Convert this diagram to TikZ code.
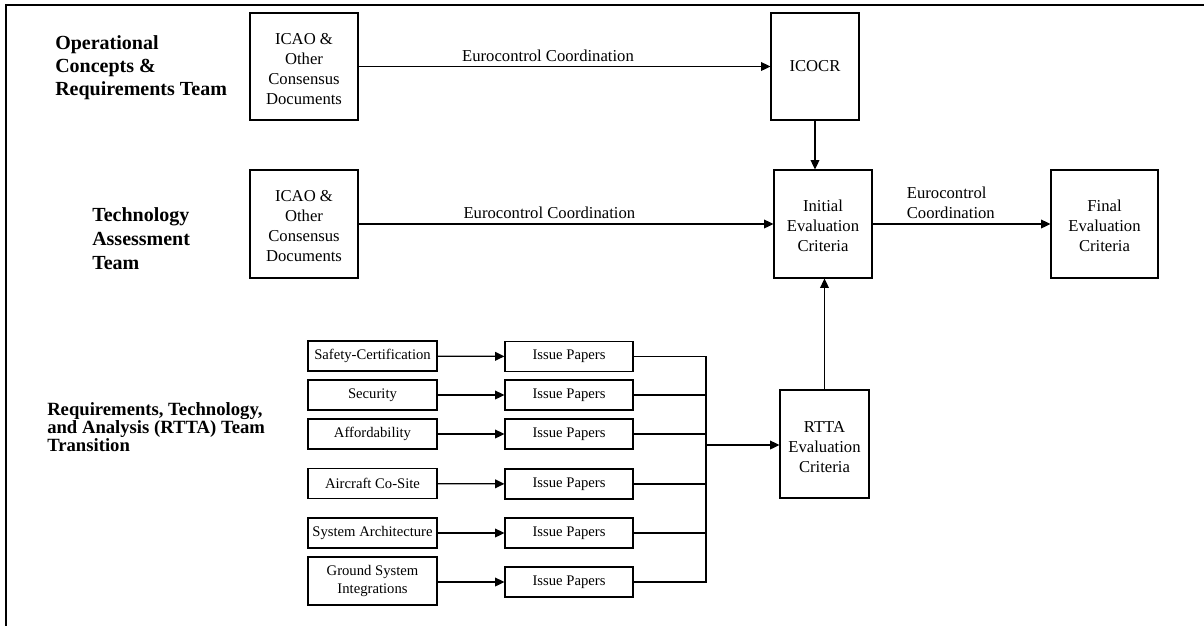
\documentclass[tikz,border=0pt]{standalone}
\usepackage{fontspec}
\setmainfont{Liberation Serif}
\usetikzlibrary{arrows.meta,positioning}

\tikzset{
  docbox/.style={draw, line width=0.8pt, align=center, inner sep=1pt,
    font=\fontsize{12.5}{15}\selectfont},
  areabox/.style={draw, line width=0.8pt, align=center, inner sep=1pt,
    minimum width=96.75pt, minimum height=22.5pt, font=\fontsize{11}{14}\selectfont},
  teamlabel/.style={anchor=north west, align=left, inner sep=0pt},
  flow/.style={-{Triangle[length=7pt,width=6.5pt]}, line width=1pt},
  busline/.style={line width=1pt},
  flowtext/.style={font=\fontsize{12.5}{15}\selectfont, align=left},
}

\begin{document}
\begin{tikzpicture}[x=0.75pt, y=-0.75pt]
  \useasboundingbox (0,0) rectangle (1204,626);
  \draw[line width=1.5pt] (1204,5) -- (6,5) -- (6,626);

  % team labels
  \node[teamlabel, font=\fontsize{15}{17.5}\selectfont\bfseries] (opsteam) at (55,35)
    {Operational\\Concepts \&\\Requirements Team};
  \node[teamlabel, font=\fontsize{15}{18}\selectfont\bfseries] (techteam) at (92,207)
    {Technology\\Assessment\\Team};
  \node[teamlabel, font=\fontsize{14}{12.5}\selectfont\bfseries] (rttateam) at (47,402)
    {Requirements, Technology,\\and Analysis (RTTA) Team\\Transition};

  % document boxes
  \node[docbox, minimum width=81pt, minimum height=80.25pt] (icao1) at (304,66.5)
    {\rule{0pt}{12pt}ICAO \&\\Other\\Consensus\\Documents};
  \node[docbox, minimum width=81pt, minimum height=81pt] (icao2) at (304,224)
    {\rule{0pt}{12pt}ICAO \&\\Other\\Consensus\\Documents};
  \node[docbox, minimum width=66pt, minimum height=80.25pt] (icocr) at (815,66.5) {ICOCR};
  \node[docbox, minimum width=73.5pt, minimum height=81pt] (initial) at (823,224)
    {\rule{0pt}{12pt}Initial\\Evaluation\\Criteria};
  \node[docbox, minimum width=80.25pt, minimum height=81pt] (final) at (1104.5,224)
    {\rule{0pt}{12pt}Final\\Evaluation\\Criteria};
  \node[docbox, minimum width=66.75pt, minimum height=81pt] (rtta) at (824.5,444)
    {\rule{0pt}{13pt}RTTA\\Evaluation\\Criteria};

  % RTTA areas
  \node[areabox] (area1) at (372.5,356) {Safety-Certification};
  \node[areabox] (area2) at (372.5,395) {Security};
  \node[areabox] (area3) at (372.5,434) {Affordability};
  \node[areabox] (area4) at (372.5,483.5) {Aircraft Co-Site};
  \node[areabox] (area5) at (372.5,533) {System Architecture};
  \node[areabox, minimum height=36pt] (area6) at (372.5,581) {Ground System\\Integrations};

  \node[areabox, minimum width=96pt] (issue1) at (569,356.5) {Issue Papers};
  \node[areabox, minimum width=96pt] (issue2) at (569,395) {Issue Papers};
  \node[areabox, minimum width=96pt] (issue3) at (569,434) {Issue Papers};
  \node[areabox, minimum width=96pt] (issue4) at (569,484) {Issue Papers};
  \node[areabox, minimum width=96pt] (issue5) at (569,533) {Issue Papers};
  \node[areabox, minimum width=96pt] (issue6) at (569,582) {Issue Papers};

  \coordinate (bus) at (706,445);

  % coordination arrows
  \draw[flow] (icao1) -- node[flowtext, above, pos=0.46] (coord1) {Eurocontrol Coordination} (icocr);
  \draw[flow] (icao2) -- node[flowtext, above, pos=0.46] (coord2) {Eurocontrol Coordination} (initial);
  \draw[flow] (initial) -- node[flowtext, above, pos=0.44] (coord3) {Eurocontrol\\Coordination} (final);
  \draw[flow] (icocr.south) -- (initial.north -| icocr.south);
  \draw[flow] (rtta.north) -- (initial.south -| rtta.north);

  % areas to issue papers
  \draw[flow] (area1) -- (issue1);
  \draw[flow] (area2) -- (issue2);
  \draw[flow] (area3) -- (issue3);
  \draw[flow] (area4) -- (issue4);
  \draw[flow] (area5) -- (issue5);
  \draw[flow] (area6.east |- issue6) -- (issue6);

  % issue papers gathered into RTTA criteria
  \draw[busline] (issue1.east) -- (issue1.east -| bus) -- (issue6.east -| bus) -- (issue6.east);
  \draw[busline] (issue2.east) -- (issue2.east -| bus);
  \draw[busline] (issue3.east) -- (issue3.east -| bus);
  \draw[busline] (issue4.east) -- (issue4.east -| bus);
  \draw[busline] (issue5.east) -- (issue5.east -| bus);
  \draw[flow] (bus) -- (bus -| rtta.west);
\end{tikzpicture}
\end{document}
